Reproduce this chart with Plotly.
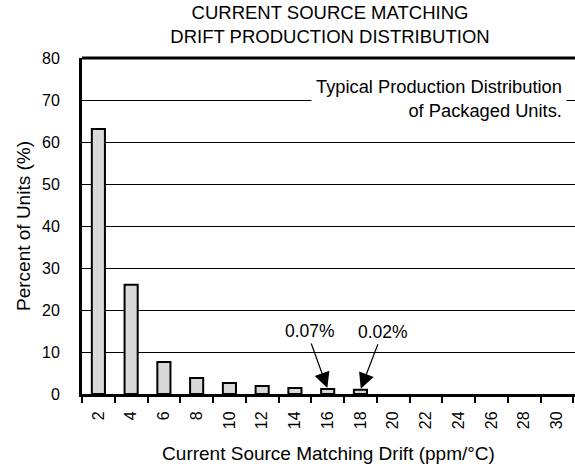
import plotly.graph_objects as go

categories = ["2", "4", "6", "8", "10", "12", "14", "16", "18", "20", "22", "24", "26", "28", "30"]
percent_units = [63.1, 26.0, 7.6, 3.8, 2.6, 1.9, 1.4, 1.2, 1.0, None, None, None, None, None, None]
y_ticks = [0, 10, 20, 30, 40, 50, 60, 70, 80]
callout_cats = ["16", "18"]
callout_text = ["0.07%", "0.02%"]

FONT = "Liberation Sans, Arial, sans-serif"

fig = go.Figure()
fig.add_trace(go.Bar(
    x=categories, y=percent_units, width=0.4,
    marker=dict(color="#d9d9d9", line=dict(color="black", width=2)),
    showlegend=False, hoverinfo="x+y",
))

fig.update_layout(
    width=575, height=469,
    margin=dict(l=82, r=0, t=58, b=75, autoexpand=False),
    paper_bgcolor="white", plot_bgcolor="white",
    font=dict(family=FONT, size=16, color="black"),
    title=dict(text="CURRENT SOURCE MATCHING<br>DRIFT PRODUCTION DISTRIBUTION",
               x=330 / 575, xanchor="center", xref="container",
               y=1 - 19 / 469, yanchor="middle", yref="container",
               automargin=False,
               font=dict(size=18.5, family=FONT)),
)

fig.update_xaxes(
    type="category", categoryorder="array", categoryarray=categories,
    range=[-0.5, 14.55], automargin=False,
    showline=True, linecolor="black", linewidth=3, mirror=False,
    ticks="outside", tickson="boundaries", ticklen=6, tickwidth=1.5, tickcolor="black",
    tickangle=-90, ticklabelstandoff=8,
    showgrid=False,
    title=dict(text="Current Source Matching Drift (ppm/°C)", standoff=19),
)
fig.update_yaxes(
    range=[0, 80], tickvals=y_ticks, automargin=False,
    showline=True, linecolor="black", linewidth=3,
    ticks="", ticklabelstandoff=16,
    showgrid=True, gridcolor="black", gridwidth=1,
    zeroline=False,
    title=dict(text="Percent of Units (%)", standoff=7),
)

# top border
fig.add_shape(type="line", xref="paper", yref="paper", x0=0, x1=1, y0=1, y1=1,
              line=dict(color="black", width=3))

fig.add_annotation(
    text="Typical Production Distribution<br>of Packaged Units.",
    xref="paper", yref="paper", x=(567 - 82) / 493, y=(394 - 98) / 336,
    xanchor="right", yanchor="middle", align="right", showarrow=False,
    bgcolor="white", borderpad=4, font=dict(size=18.3),
)

# callouts
shifts = [(-18, -17, -47), (23, 18, -47)]
for cat, txt, (tx, ax, ay) in zip(callout_cats, callout_text, shifts):
    idx = categories.index(cat)
    val = percent_units[idx]
    fig.add_annotation(text=txt, x=idx, y=val, xref="x", yref="y",
                       showarrow=False, xshift=tx, yshift=58, font=dict(size=17.5))
    fig.add_annotation(text="", x=idx, y=val, xref="x", yref="y",
                       showarrow=True, ax=ax, ay=ay, arrowhead=2, arrowsize=2.6,
                       arrowwidth=1.2, arrowcolor="black", standoff=1)

fig.write_html("out.html", config={"displayModeBar": False},
               post_script="document.body.style.margin='0';document.body.style.overflow='hidden';")
